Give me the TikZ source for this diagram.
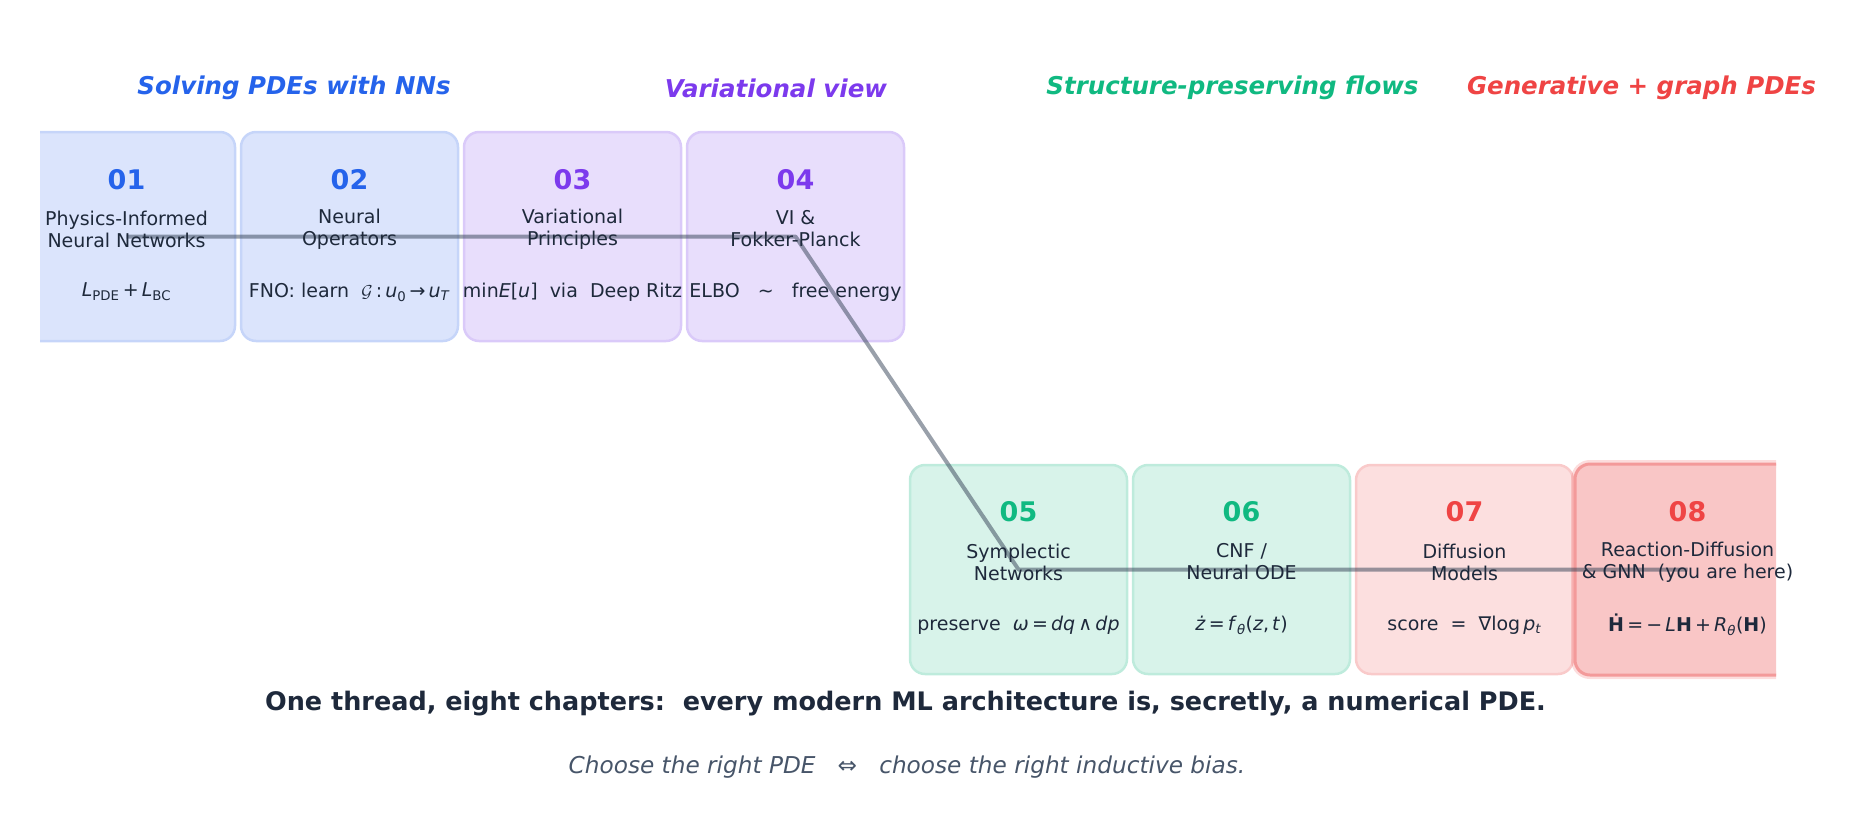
\documentclass[tikz,border=0pt]{standalone}
\usepackage{fontspec}
\setmainfont{DejaVu Sans}
\definecolor{cblue}{HTML}{2563EB}
\definecolor{cpurple}{HTML}{7C3AED}
\definecolor{cgreen}{HTML}{10B981}
\definecolor{cred}{HTML}{EF4444}
\definecolor{cdark}{HTML}{1E293B}
\definecolor{cgray}{HTML}{475569}
\definecolor{fblue}{HTML}{DBE4FC}
\definecolor{eblue}{HTML}{C6D5F9}
\definecolor{fpurple}{HTML}{E8DEFC}
\definecolor{epurple}{HTML}{DACAF9}
\definecolor{fgreen}{HTML}{D8F3EA}
\definecolor{egreen}{HTML}{BEEBDC}
\definecolor{fred}{HTML}{FCDFDF}
\definecolor{ered}{HTML}{F9CACA}
\definecolor{fhere}{HTML}{F9C6C6}
\definecolor{ehere}{HTML}{F39A9A}
\definecolor{cline}{HTML}{334155}
\tikzset{
  chapbox/.style={rounded corners=15pt, minimum width=217pt, minimum height=209pt, line width=2.5pt, inner sep=0pt},
  numtxt/.style={font=\fontsize{27}{31}\selectfont\bfseries, inner sep=0pt},
  ttltxt/.style={font=\fontsize{19}{22}\selectfont, text=cdark, align=center, inner sep=0pt},
  eqtxt/.style={font=\fontsize{19}{22}\selectfont, text=cdark, inner sep=0pt},
  headtxt/.style={font=\fontsize{24.5}{30}\selectfont\bfseries\itshape, inner sep=0pt},
  conn/.style={draw=cline, draw opacity=0.5, line width=4pt, line join=round},
}
\begin{document}
\begin{tikzpicture}[x=1pt,y=-1pt]
\useasboundingbox (0,0) rectangle (1860,820);
% headings
\node[headtxt, text=cblue] (h1) at (294,88) {Solving PDEs with NNs};
\node[headtxt, text=cpurple] (h2) at (776,88) {Variational view};
\node[headtxt, text=cgreen] (h3) at (1232.5,88) {Structure-preserving flows};
\node[headtxt, text=cred] (h4) at (1641.5,88) {Generative + graph PDEs};
\begin{scope}
\clip (40,0) rectangle (1776,820);
\node[chapbox, fill=fblue, draw=eblue] (b1) at (126.5,236.5) {};
\node[chapbox, fill=fblue, draw=eblue] (b2) at (349.5,236.5) {};
\node[chapbox, fill=fpurple, draw=epurple] (b3) at (572.5,236.5) {};
\node[chapbox, fill=fpurple, draw=epurple] (b4) at (795.5,236.5) {};
\node[chapbox, fill=fgreen, draw=egreen] (b5) at (1018.5,569.5) {};
\node[chapbox, fill=fgreen, draw=egreen] (b6) at (1241.5,569.5) {};
\node[chapbox, fill=fred, draw=ered] (b7) at (1464.5,569.5) {};
\node[chapbox, minimum width=225pt, minimum height=211pt, draw=cred, draw opacity=0.18, line width=8pt] (g8) at (1687.5,569.5) {};
\node[chapbox, minimum width=225pt, minimum height=211pt, fill=fhere, draw=ehere, line width=3pt] (b8) at (1687.5,569.5) {};
\draw[conn] (b1.center) -- (b4.center) -- (b5.center) -- (b8.center);
\end{scope}
% numbers
\node[numtxt, text=cblue] (n1) at (126.5,180) {01};
\node[numtxt, text=cblue] (n2) at (349.5,180) {02};
\node[numtxt, text=cpurple] (n3) at (572.5,180) {03};
\node[numtxt, text=cpurple] (n4) at (795.5,180) {04};
\node[numtxt, text=cgreen] (n5) at (1018.5,512) {05};
\node[numtxt, text=cgreen] (n6) at (1241.5,512) {06};
\node[numtxt, text=cred] (n7) at (1464.5,512) {07};
\node[numtxt, text=cred] (n8) at (1687.5,512) {08};
% titles
\node[ttltxt] (t1) at (126.5,229) {Physics-Informed\\Neural Networks};
\node[ttltxt] (t2) at (349.5,229) {Neural\\Operators};
\node[ttltxt] (t3) at (572.5,229) {Variational\\Principles};
\node[ttltxt] (t4) at (795.5,229) {VI \&\\Fokker-Planck};
\node[ttltxt] (t5) at (1018.5,562) {Symplectic\\Networks};
\node[ttltxt] (t6) at (1241.5,562) {CNF /\\Neural ODE};
\node[ttltxt] (t7) at (1464.5,562) {Diffusion\\Models};
\node[ttltxt] (t8) at (1687.5,562) {Reaction-Diffusion\\\& GNN\ \ (you are here)};
% formulas
\node[eqtxt] (e1) at (126.5,292) {\textit{L}\textsubscript{PDE}\,+\,\textit{L}\textsubscript{BC}};
\node[eqtxt] (e2) at (349.5,292) {FNO: learn\ \ $\mathcal{G}$\,:\,\textit{u}\textsubscript{0}\,→\,\textit{u}\textsubscript{\textit{T}}};
\node[eqtxt] (e3) at (572.5,292) {min\textit{E}[\textit{u}]\ \ via\ \ Deep Ritz};
\node[eqtxt] (e4) at (795.5,292) {ELBO\ \ \ ∼\ \ \ free energy};
\node[eqtxt] (e5) at (1018.5,625) {preserve\ \ \textit{ω}\,=\,\textit{dq}\,∧\,\textit{dp}};
\node[eqtxt] (e6) at (1241.5,625) {\textit{ż}\,=\,\textit{f}\textsubscript{\textit{θ}}(\textit{z},\,\textit{t})};
\node[eqtxt] (e7) at (1464.5,625) {score\ \ =\ \ ∇log\,\textit{p}\textsubscript{\textit{t}}};
\node[eqtxt] (e8) at (1687.5,625) {\textbf{Ḣ}\,=\,−\,\textit{L}\textbf{H}\,+\,\textit{R}\textsubscript{\textit{θ}}(\textbf{H})};
% footer
\node[font=\fontsize{25.5}{30}\selectfont\bfseries, text=cdark, inner sep=0pt] (f1) at (905.5,704) {One thread, eight chapters:\ \ every modern ML architecture is, secretly, a numerical PDE.};
\node[font=\fontsize{23.2}{28}\selectfont\itshape, text=cgray, inner sep=0pt] (f2) at (907,767) {Choose the right PDE\ \ \ ⇔\ \ \ choose the right inductive bias.};
\end{tikzpicture}
\end{document}
